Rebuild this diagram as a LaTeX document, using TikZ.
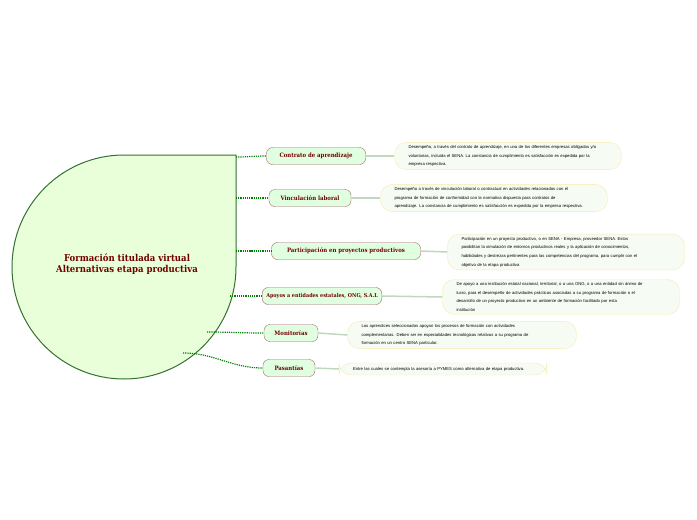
\documentclass[tikz,border=0pt]{standalone}
\usepackage{fontspec}
\setmainfont{Liberation Sans}
\newfontfamily\slab{DejaVu Serif Condensed}
\begin{document}
\begin{tikzpicture}[x=1pt,y=-1pt,
 topic/.style={draw=red!40!black!60,fill=green!12!white,rounded corners=6pt,font=\slab\bfseries\fontsize{6}{7}\selectfont,text=red!45!black,minimum height=17pt,inner xsep=4pt,anchor=center},
 leaf/.style={draw=yellow!60!brown!35,fill=yellow!8!green!4!white,rounded corners=12pt,font=\fontsize{4.2}{8.6}\selectfont,align=left,inner xsep=14pt,inner ysep=3pt},
 dots/.style={draw=green!50!black,densely dotted,line width=1.2pt},
 sline/.style={draw=green!25!gray!40,line width=1.5pt}]
\useasboundingbox (0,0) rectangle (697,520);
\draw[draw=green!30!black!80,fill=green!60!yellow!15!white,line width=1pt] (236,155) -- (236,267) arc[start angle=0,end angle=270,radius=112] -- cycle;
\node[font=\slab\bfseries\fontsize{9.5}{10.5}\selectfont,text=red!45!black,align=center] (c) at (127,264) {Formación titulada virtual\\Alternativas etapa productiva};
\coordinate (p1) at (236,157); \coordinate (p2) at (236,198);
\coordinate (p3) at (236,251); \coordinate (p4) at (230,296);
\coordinate (p5) at (207,332); \coordinate (p6) at (183,353);
\node[topic,minimum width=99pt] (t1) at (316,156) {Contrato de aprendizaje};
\node[topic,minimum width=82pt] (t2) at (310,198) {Vinculación laboral};
\node[topic,minimum width=149pt] (t3) at (346,251) {Participación en proyectos productivos};
\node[topic,minimum width=118pt,font=\slab\bfseries\fontsize{5.4}{7}\selectfont] (t4) at (322,296) {Apoyos a entidades estatales, ONG, S.A.L};
\node[topic,minimum width=54pt] (t5) at (291,333) {Monitorías};
\node[topic,minimum width=52pt] (t6) at (289,368) {Pasantías};
\node[leaf,text width=199pt] (l1) at (508,156) {Desempeño, a través del contrato de aprendizaje, en una de las diferentes empresas obligadas y/o\\voluntarias, incluida el SENA. La constancia de cumplimiento es satisfacción es expedida por la\\empresa respectiva.};
\node[leaf,text width=199pt] (l2) at (494,198) {Desempeño a través de vinculación laboral o contractual en actividades relacionadas con el\\programa de formación de conformidad con la normativa dispuesta para contratos de\\aprendizaje. La constancia de cumplimiento es satisfacción es expedida por la empresa respectiva.};
\node[leaf,text width=209pt] (l3) at (566,252) {Participación en un proyecto productivo, o en SENA - Empresa, proveedor SENA. Estos\\posibilitan la simulación de entornos productivos reales y la aplicación de conocimientos,\\habilidades y destrezas pertinentes para las competencias del programa, para cumplir con el\\objetivo de la etapa productiva};
\node[leaf,text width=209pt] (l4) at (561,297) {De apoyo a una institución estatal nacional, territorial, o a una ONG, o a una entidad sin ánimo de\\lucro, para el desempeño de actividades prácticas asociadas a su programa de formación o el\\desarrollo de un proyecto productivo en un ambiente de formación facilitado por esta\\institución};
\node[leaf,text width=201pt] (l5) at (462,335) {Los aprendices seleccionados apoyan los procesos de formación con actividades\\complementarias. Deben ser en especialidades tecnológicas relativas a su programa de\\formación en un centro SENA particular.};
\node[leaf,text width=180pt,inner ysep=4pt] (l6) at (443,369) {Entre las cuales se contempla la asesoría a PYMES como alternativa de etapa productiva.};
\foreach \i in {1,...,6}{\draw[dots] (p\i) to[out=0,in=180] (t\i.west); \draw[sline] (t\i.east) -- (l\i.west);}
\end{tikzpicture}
\end{document}
